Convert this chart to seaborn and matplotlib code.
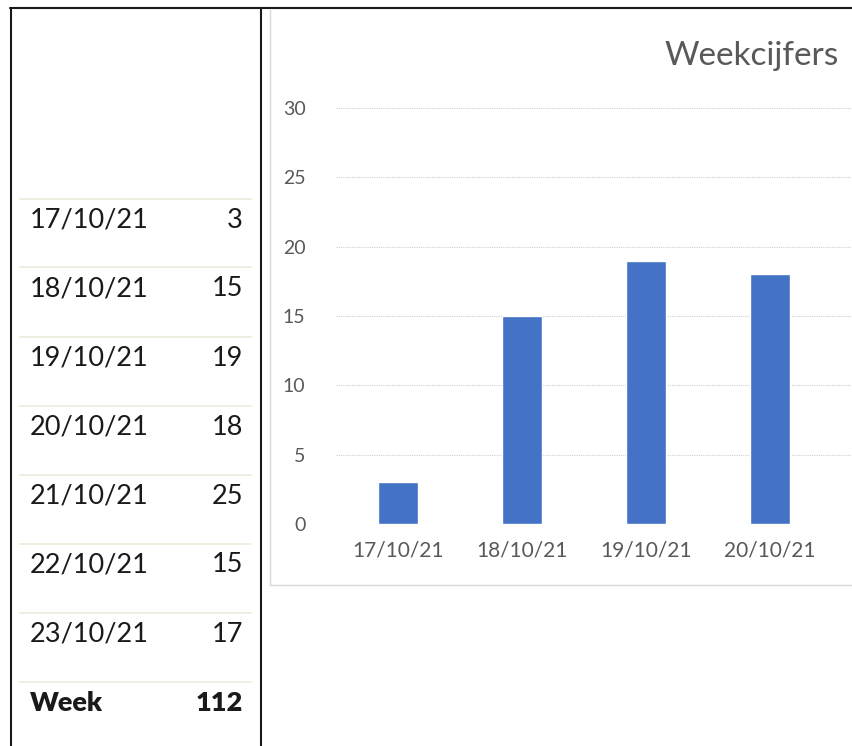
import numpy as np
import pandas as pd
import seaborn as sns
import matplotlib.pyplot as plt
from matplotlib.lines import Line2D
from matplotlib.transforms import Bbox

dates = ['17/10/21', '18/10/21', '19/10/21', '20/10/21', '21/10/21', '22/10/21', '23/10/21']
values = [3, 15, 19, 18, 25, 15, 17]
week_label = 'Week'
week_total = 112
chart_title = 'Weekcijfers'

W, H = 852, 746
sns.set_style('white')
plt.rcParams['font.family'] = ['Lato', 'DejaVu Sans']

fig = plt.figure(figsize=(W / 100, H / 100), dpi=100)


#   pixel -> figure coords
def fx(x):
    return x / W


def fy(y):
    return 1 - y / H


def hline(x0, x1, y, color, lw=1.0):
    fig.add_artist(Line2D([fx(x0), fx(x1)], [fy(y), fy(y)], color=color, lw=lw,
                          transform=fig.transFigure))


def vline(x, y0, y1, color, lw=1.0):
    fig.add_artist(Line2D([fx(x), fx(x)], [fy(y0), fy(y1)], color=color, lw=lw,
                          transform=fig.transFigure))


#   chart (wider than the figure: the screenshot cuts it off on the right)
ax_left, ax_right, ax_top, ax_bottom = 336, 1204, 108, 524
ax = fig.add_axes([fx(ax_left), fy(ax_bottom), (ax_right - ax_left) / W, (ax_bottom - ax_top) / H])
df = pd.DataFrame({'date': dates, 'value': values})
sns.barplot(data=df, x='date', y='value', color='#4472C4', saturation=1, width=0.32, ax=ax)
ax.set_ylim(0, 30)
ax.set_yticks(range(0, 31, 5))
ax.set_xlim(-0.5, len(dates) - 0.5)
ax.yaxis.grid(True, color='#D0D0D0', lw=0.8, ls=(0, (1, 1)))
ax.set_axisbelow(True)
for s in ax.spines.values():
    s.set_visible(False)
ax.tick_params(axis='x', length=0, labelsize=15, labelcolor='#595959', pad=12)
ax.tick_params(axis='y', length=0, labelsize=14, labelcolor='#595959', pad=22)
ax.set_xlabel('')
ax.set_ylabel('')

#   the screenshot's visible part of the chart ends at about x=848
clip = Bbox.from_extents(0, 0, 848, H)
for lbl in ax.get_xticklabels():
    lbl.set_clip_box(clip)
    lbl.set_clip_on(True)

fig.text(fx(752), fy(56), chart_title, ha='center', va='center', fontsize=24, color='#595959')

#   chart area border
vline(270, 10, 585, '#D9D9D9')
hline(270, W, 585, '#D9D9D9')

#   table on the left
row_y = [220, 289, 358, 427, 496, 565, 634]
sep_y = [199, 267, 337, 406, 475, 544, 613, 682]
fs = 19.5
for y in sep_y:
    hline(20, 251, y, '#EBEBDB', lw=1.2)
for y, d, v in zip(row_y, dates, values):
    fig.text(fx(30), fy(y), d, ha='left', va='center', fontsize=fs, color='#1a1a1a')
    fig.text(fx(243), fy(y), str(v), ha='right', va='center', fontsize=fs, color='#1a1a1a')
fig.text(fx(30), fy(703), week_label, ha='left', va='center', fontsize=fs, color='#1a1a1a',
         fontweight='heavy')
fig.text(fx(243), fy(703), str(week_total), ha='right', va='center', fontsize=fs, color='#1a1a1a',
         fontweight='heavy')

#   black borders
hline(10, W, 8, '#1a1a1a', lw=1.5)
vline(11, 8, H, '#1a1a1a', lw=1.5)
vline(261, 8, H, '#1a1a1a', lw=1.5)

fig.savefig('out.png', dpi=100)
